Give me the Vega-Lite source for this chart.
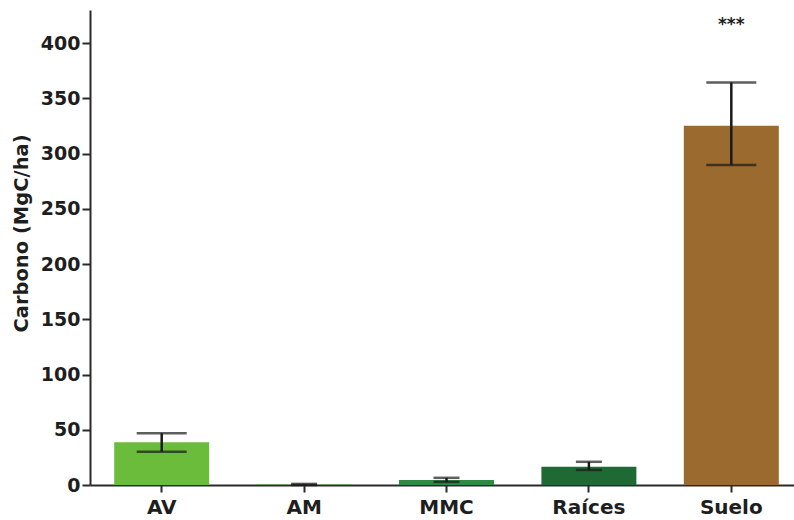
{
  "$schema": "https://vega.github.io/schema/vega-lite/v6.json",
  "autosize": "none",
  "width": 713,
  "height": 475,
  "padding": {"left": 90, "top": 10, "right": 0, "bottom": 35},
  "background": "white",
  "config": {
    "view": {"stroke": null},
    "font": "DejaVu Sans"
  },
  "data": {
    "values": [
      {"cat": "AV", "value": 38.7, "lower": 30.2, "upper": 46.8, "sig": ""},
      {"cat": "AM", "value": 0.4, "lower": 0.0, "upper": 1.0, "sig": ""},
      {"cat": "MMC", "value": 4.5, "lower": 2.8, "upper": 6.5, "sig": ""},
      {"cat": "Raíces", "value": 16.6, "lower": 13.6, "upper": 21.0, "sig": ""},
      {"cat": "Suelo", "value": 325.2, "lower": 289.6, "upper": 364.4, "sig": "***"}
    ]
  },
  "encoding": {
    "x": {
      "field": "cat",
      "type": "nominal",
      "sort": ["AV", "AM", "MMC", "Raíces", "Suelo"],
      "scale": {"paddingInner": 0.333, "paddingOuter": 0.17},
      "axis": {
        "title": null,
        "labelAngle": 0,
        "labelFont": "DejaVu Sans",
        "labelFontWeight": "bold",
        "labelFontSize": 20,
        "labelColor": "#1e1e1e",
        "labelPadding": 5,
        "domainColor": "#2a2a2a",
        "domainWidth": 2,
        "tickColor": "#2a2a2a",
        "tickWidth": 2,
        "tickSize": 7
      }
    }
  },
  "layer": [
    {
      "mark": {"type": "bar"},
      "encoding": {
        "y": {
          "field": "value",
          "type": "quantitative",
          "scale": {"domain": [0, 430], "nice": false},
          "axis": {
            "title": "Carbono (MgC/ha)",
            "titleFont": "DejaVu Sans",
            "titleFontWeight": "bold",
            "titleFontSize": 19.5,
            "titleColor": "#1e1e1e",
            "titlePadding": 9,
            "titleY": 223,
            "values": [0, 50, 100, 150, 200, 250, 300, 350, 400],
            "grid": false,
            "labelFont": "DejaVu Sans",
            "labelFontWeight": "bold",
            "labelFontSize": 19,
            "labelColor": "#1e1e1e",
            "labelPadding": 2,
            "domainColor": "#2a2a2a",
            "domainWidth": 2,
            "tickColor": "#2a2a2a",
            "tickWidth": 2,
            "tickSize": 8
          }
        },
        "color": {
          "field": "cat",
          "type": "nominal",
          "legend": null,
          "scale": {
            "domain": ["AV", "AM", "MMC", "Raíces", "Suelo"],
            "range": ["#6cbc3c", "#5aa83a", "#2d8a45", "#1f6a34", "#9b6a2e"]
          }
        }
      }
    },
    {
      "mark": {"type": "rule", "color": "#1a1a1a", "strokeWidth": 2.5},
      "encoding": {
        "y": {"field": "lower", "type": "quantitative"},
        "y2": {"field": "upper"}
      }
    },
    {
      "mark": {"type": "tick", "color": "#1a1a1a", "thickness": 2.5, "orient": "horizontal"},
      "encoding": {
        "y": {"field": "upper", "type": "quantitative"},
        "size": {"condition": {"test": "datum.cat === 'AV' || datum.cat === 'Suelo'", "value": 50}, "value": 26}
      }
    },
    {
      "mark": {"type": "tick", "color": "#1a1a1a", "thickness": 2.5, "orient": "horizontal"},
      "encoding": {
        "y": {"field": "lower", "type": "quantitative"},
        "size": {"condition": {"test": "datum.cat === 'AV' || datum.cat === 'Suelo'", "value": 50}, "value": 26}
      }
    },
    {
      "transform": [{"filter": "datum.sig !== ''"}],
      "mark": {"type": "text", "fontSize": 17, "fontWeight": "bold", "color": "#1e1e1e", "baseline": "middle"},
      "encoding": {
        "y": {"datum": 416},
        "text": {"field": "sig"}
      }
    }
  ]
}
